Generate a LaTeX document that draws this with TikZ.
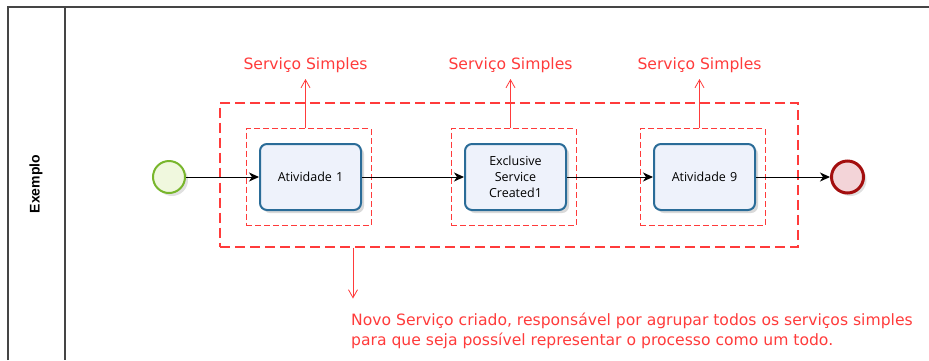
\documentclass[tikz,border=0pt]{standalone}
\usepackage{fontspec}
\setmainfont{DejaVu Sans}
\newfontfamily\taskfont{Open Sans}
\newfontfamily\lanefont{Liberation Sans}
\usetikzlibrary{shapes.geometric, arrows.meta, positioning, calc, fit, backgrounds, shadows}

\definecolor{taskblue}{HTML}{2A6C98}
\definecolor{taskfill}{HTML}{EEF2FB}
\definecolor{startgreen}{HTML}{78B62C}
\definecolor{startfill}{HTML}{F0F8DE}
\definecolor{endred}{HTML}{A30E0E}
\definecolor{endfill}{HTML}{F3D4D8}
\definecolor{notered}{HTML}{FF3B3B}
\definecolor{poolgray}{HTML}{454545}

\tikzset{
    task/.style={rectangle, rounded corners=7pt, minimum width=101pt, minimum height=66pt, text width=90pt, align=center, draw=taskblue, line width=2pt, fill=taskfill, font=\taskfont\fontsize{12.5}{16}\selectfont, drop shadow={shadow xshift=3pt, shadow yshift=-3pt, opacity=0.15, fill=black}},
    startevent/.style={circle, minimum size=32pt, inner sep=0pt, draw=startgreen, line width=2pt, fill=startfill, drop shadow={shadow xshift=3pt, shadow yshift=-3pt, opacity=0.12, fill=black}},
    endevent/.style={circle, minimum size=32pt, inner sep=0pt, draw=endred, line width=3pt, fill=endfill, drop shadow={shadow xshift=3pt, shadow yshift=-3pt, opacity=0.12, fill=black}},
    flow/.style={line width=1pt, -{Stealth[length=10pt, width=9pt, inset=3pt]}},
    servicebox/.style={rectangle, draw=notered, color=notered, dash pattern=on 6pt off 3pt, line width=1pt, inner xsep=11pt, inner ysep=14.5pt, xshift=-2pt},
    groupbox/.style={rectangle, draw=notered, dash pattern=on 10pt off 5pt, line width=2pt, inner xsep=29pt, inner ysep=23pt, xshift=3.5pt, yshift=2.5pt},
    note/.style={text=notered, inner sep=0pt, font=\fontsize{15.6}{20}\selectfont},
    notearrow/.style={draw=notered, line width=0.8pt, -{Straight Barb[length=8pt, width=9pt]}}
}

\begin{document}
\begin{tikzpicture}[x=1pt, y=-1pt]
    \useasboundingbox (0,0) rectangle (929,360);

    % --- POOL ---
    \draw [poolgray, line width=1.5pt] (8,360) -- (8,7) -- (929,7);
    \draw [poolgray, line width=1.5pt] (65,7) -- (65,360);
    \node (lane) [rotate=90, font=\lanefont\bfseries\fontsize{14}{16}\selectfont] at (36,184) {Exemplo};

    % --- NOEUDS ---
    \node (start) [startevent] at (169,177) {};
    \node (task1) [task, right=73pt of start] {Atividade 1};
    \node (task2) [task, right=102pt of task1] {Exclusive\\ Service\\ Created1};
    \node (task3) [task, right=86pt of task2] {Atividade 9};
    \node (end) [endevent, right=74pt of task3] {};

    % --- CADRES ---
    \node (sbox1) [servicebox, fit=(task1)] {};
    \node (sbox2) [servicebox, fit=(task2)] {};
    \node (sbox3) [servicebox, fit=(task3)] {};
    \node (bigbox) [groupbox, fit=(sbox1) (sbox3)] {};

    % --- ANNOTATIONS ---
    \node (srv1) [note, above=55pt of sbox1, xshift=-3pt] {Serviço Simples};
    \node (srv2) [note, above=55pt of sbox2, xshift=-3pt] {Serviço Simples};
    \node (srv3) [note, above=55pt of sbox3, xshift=-3pt] {Serviço Simples};
    \node (novo) [note, align=left, below right=65pt and 132pt of bigbox.south west] {Novo Serviço criado, responsável por agrupar todos os serviços simples\\ para que seja possível representar o processo como um todo.};

    % --- FLÈCHES ---
    \draw [flow] (start) -- (task1);
    \draw [flow] (task1) -- (task2);
    \draw [flow] (task2) -- (task3);
    \draw [flow] (task3) -- (end);

    \draw [notearrow, shorten >=6pt] (sbox1.north -| srv1.south) -- (srv1.south);
    \draw [notearrow, shorten >=6pt] (sbox2.north -| srv2.south) -- (srv2.south);
    \draw [notearrow, shorten >=6pt] (sbox3.north -| srv3.south) -- (srv3.south);
    \draw [notearrow, shorten >=14pt] ([xshift=2pt]novo.north west |- bigbox.south) -- ([xshift=2pt]novo.north west);

\end{tikzpicture}
\end{document}
